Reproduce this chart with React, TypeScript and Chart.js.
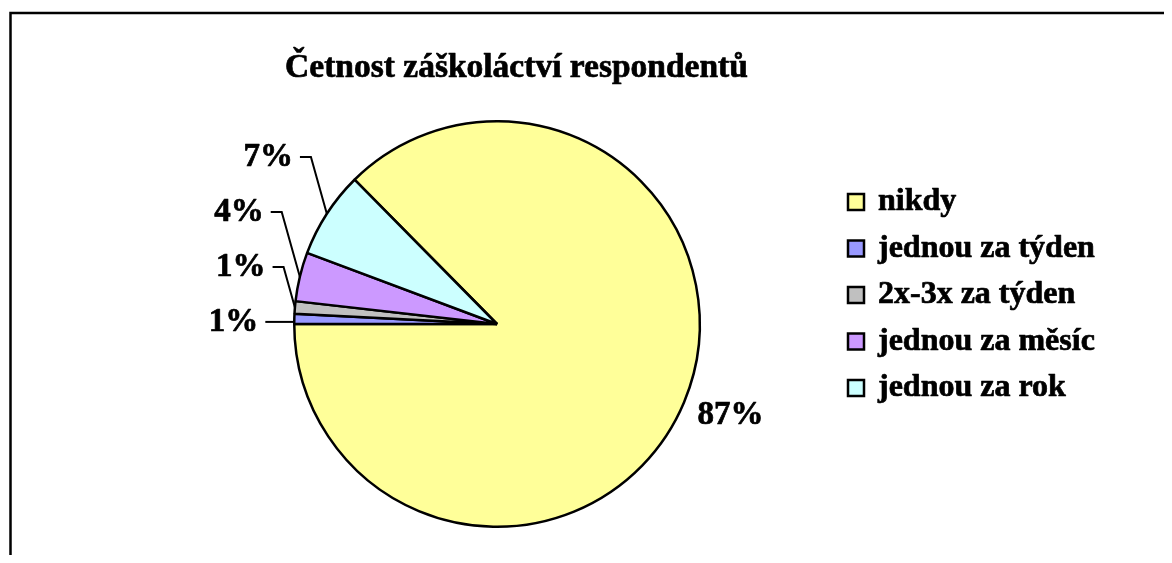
import React, { useEffect, useRef } from "react";
import { Chart, registerables } from "chart.js";

Chart.register(...registerables);

const TITLE = "Četnost záškoláctví respondentů";
const categories = ["nikdy", "jednou za týden", "2x-3x za týden", "jednou za měsíc", "jednou za rok"];
const values = [87.4, 0.8, 1.0, 3.9, 6.9];
const colors = ["#FFFF99", "#9999FF", "#C0C0C0", "#CC99FF", "#CCFFFF"];

const FONT = '"Liberation Serif", "Times New Roman", serif';
const W = 1164;
const H = 547;

const total = values.reduce((a, b) => a + b, 0);
const pct = (v: number) => Math.round((v / total) * 100) + "%";

function boldText(ctx: CanvasRenderingContext2D, t: string, x: number, y: number) {
  ctx.save();
  ctx.lineWidth = 0.7;
  ctx.lineJoin = "round";
  ctx.strokeStyle = "#000";
  ctx.fillText(t, x, y);
  ctx.strokeText(t, x, y);
  ctx.restore();
}

const overlay = {
  id: "overlay",
  beforeDraw(chart: any) {
    const ctx = chart.ctx;
    ctx.save();
    ctx.fillStyle = "#fff";
    ctx.fillRect(0, 0, chart.width, chart.height);
    ctx.strokeStyle = "#000";
    ctx.lineWidth = 2.5;
    ctx.strokeRect(2.5, 5, chart.width + 50, chart.height + 50);
    ctx.restore();
  },
  afterDatasetsDraw(chart: any) {
    const ctx = chart.ctx;
    const meta = chart.getDatasetMeta(0);
    ctx.save();
    ctx.fillStyle = "#000";
    ctx.strokeStyle = "#000";
    // title
    ctx.font = `bold 33.5px ${FONT}`;
    ctx.textAlign = "center";
    ctx.textBaseline = "alphabetic";
    boldText(ctx, TITLE, 508.5, 69);

    // data labels
    ctx.font = `bold 33px ${FONT}`;
    ctx.lineWidth = 2;
    let prevY = Infinity;
    meta.data.forEach((arc: any, i: number) => {
      const { x, y, startAngle, endAngle, outerRadius } = arc.getProps(
        ["x", "y", "startAngle", "endAngle", "outerRadius"],
        true
      );
      const mid = (startAngle + endAngle) / 2;
      const cos = Math.cos(mid);
      const sin = Math.sin(mid);
      const txt = pct(values[i]);
      if (cos > 0) {
        const r = outerRadius + 46;
        ctx.textAlign = "center";
        ctx.textBaseline = "middle";
        boldText(ctx, txt, x + r * cos + 4, y + r * sin - 4);
        return;
      }
      const ax = x + outerRadius * cos;
      const ay = y + outerRadius * sin;
      const ly = Math.min(ay + 3, prevY - 55);
      prevY = ly;
      const dy = ay - ly;
      const cx = dy < 8 ? ax : ax - 0.28 * dy;
      const hx = cx - (dy < 8 ? 29 : 11);
      ctx.beginPath();
      ctx.moveTo(hx, ly);
      ctx.lineTo(cx, ly);
      ctx.lineTo(ax, dy < 8 ? ly : ay);
      ctx.stroke();
      ctx.textAlign = "right";
      ctx.textBaseline = "middle";
      boldText(ctx, txt, hx - 7, ly + 1);
    });

    // legend
    ctx.font = `bold 32px ${FONT}`;
    ctx.textAlign = "left";
    ctx.textBaseline = "middle";
    categories.forEach((c, i) => {
      const yy = 194 + i * 46.5;
      ctx.lineWidth = 2.5;
      ctx.fillStyle = colors[i];
      ctx.fillRect(840, yy - 8, 16, 16);
      ctx.strokeRect(840, yy - 8, 16, 16);
      ctx.fillStyle = "#000";
      boldText(ctx, c, 870, yy);
    });
    ctx.restore();
  },
};

export default function App() {
  const ref = useRef<HTMLCanvasElement>(null);
  useEffect(() => {
    if (!ref.current) return;
    const chart = new Chart(ref.current, {
      type: "pie",
      data: {
        labels: categories,
        datasets: [
          {
            data: values,
            backgroundColor: colors,
            borderColor: "#000",
            borderWidth: 2.5,
          },
        ],
      },
      options: {
        responsive: false,
        animation: false,
        rotation: 270 - (values[0] / total) * 360,
        layout: { padding: { left: 285, top: 112, right: 471, bottom: 27 } },
        plugins: {
          legend: { display: false },
          title: { display: false },
          tooltip: { enabled: false },
        },
      },
      plugins: [overlay],
    } as any);
    return () => chart.destroy();
  }, []);
  return (
    <div style={{ width: W, height: H }}>
      <canvas ref={ref} width={W} height={H} style={{ display: "block", width: W, height: H }} />
    </div>
  );
}
